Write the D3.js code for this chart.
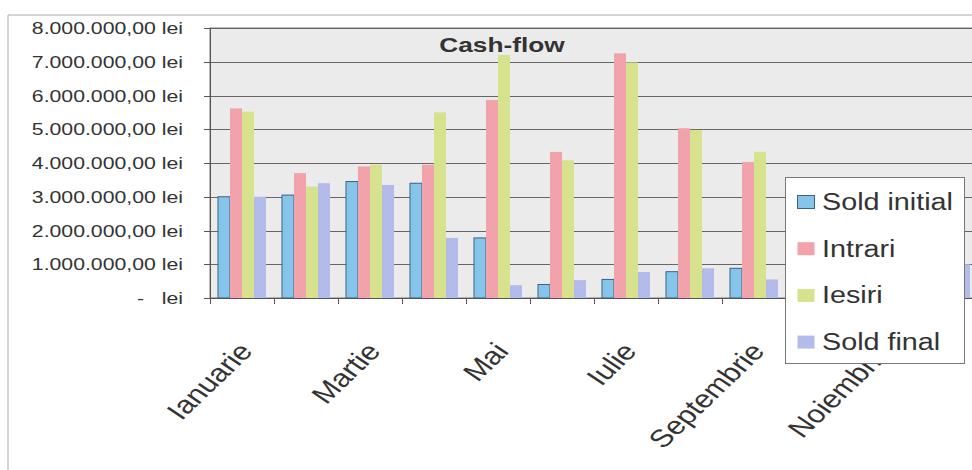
<!DOCTYPE html>
<html>
<head>
<meta charset="utf-8">
<script src="https://cdn.jsdelivr.net/npm/d3@7"></script>
<style>
  body { margin: 0; background: #fff; }
  svg { display: block; font-family: Arial, "Liberation Sans", sans-serif; }
</style>
</head>
<body>
<div id="chart"></div>
<script>
// months of the year (x categories)
const months = ["Ianuarie", "Februarie", "Martie", "Aprilie", "Mai", "Iunie",
	"Iulie", "August", "Septembrie", "Octombrie", "Noiembrie", "Decembrie"];
const seriesNames = ["Sold initial", "Intrari", "Iesiri", "Sold final"];
// values in lei (Oct-Dec sit behind the legend, rough guesses)
const soldInitial = [3000000, 3050000, 3450000, 3400000, 1780000, 400000, 550000, 780000, 880000, 550000, 700000, 850000];
const intrari     = [5620000, 3700000, 3900000, 3950000, 5870000, 4330000, 7250000, 5030000, 4030000, 3000000, 3100000, 3200000];
const iesiri      = [5520000, 3300000, 3950000, 5500000, 7200000, 4080000, 6980000, 4980000, 4330000, 2850000, 2950000, 3050000];
const soldFinal   = [3000000, 3400000, 3350000, 1780000, 380000, 530000, 770000, 880000, 550000, 700000, 850000, 1000000];
const yTicks = [0, 1000000, 2000000, 3000000, 4000000, 5000000, 6000000, 7000000, 8000000];
const colors = ["#86c4ea", "#f2a2aa", "#d6e28e", "#b3bbea"];

const W = 972, H = 470,
	stretch = 1.25, // the scan is wider than it is tall
	plot = {left: 210, right: 978, top: 28, bottom: 298},
	textColor = "#333";

let svg = d3.select("#chart").append("svg").attr("width", W).attr("height", H);

let allSeries = [soldInitial, intrari, iesiri, soldFinal];

let x0 = d3.scaleBand().domain(months)
	.range([plot.left, plot.right])
	.paddingInner(0.25).paddingOuter(0.125);
let x1 = d3.scaleBand().domain(d3.range(seriesNames.length))
	.range([0, x0.bandwidth()]);
let y = d3.scaleLinear().domain([0, 8000000]).range([plot.bottom, plot.top]);

// chart border (the right side is cut off in the scan)
svg.append("path")
	.attr("d", "M8," + H + "V15H" + W)
	.attr("fill", "none").attr("stroke", "#aaa");

// plot area
svg.append("rect")
	.attr("x", plot.left).attr("y", plot.top)
	.attr("width", plot.right - plot.left).attr("height", plot.bottom - plot.top)
	.attr("fill", "#ebebeb").attr("stroke", "#777");

// gridlines
svg.append("g").selectAll("line").data(yTicks).join("line")
	.attr("x1", plot.left).attr("x2", plot.right)
	.attr("y1", d => Math.round(y(d)) + 0.5).attr("y2", d => Math.round(y(d)) + 0.5)
	.attr("stroke", "#666").attr("stroke-width", 1);

// bars
let groups = svg.append("g").selectAll("g").data(months).join("g")
	.attr("transform", d => "translate(" + x0(d) + ",0)");

groups.selectAll("rect")
	.data((m, mi) => allSeries.map((s, si) => ({si: si, v: s[mi]})))
	.join("rect")
	.attr("x", d => x1(d.si))
	.attr("width", x1.bandwidth())
	.attr("y", d => y(d.v))
	.attr("height", d => y(0) - y(d.v))
	.attr("fill", d => colors[d.si])
	.attr("stroke", d => d.si === 0 ? "#3c6287" : "none")
	.attr("stroke-width", 1);

// axes lines
svg.append("line")
	.attr("x1", plot.left + 0.5).attr("x2", plot.left + 0.5)
	.attr("y1", plot.top).attr("y2", plot.bottom)
	.attr("stroke", "#555");
svg.append("line")
	.attr("x1", plot.left).attr("x2", plot.right)
	.attr("y1", plot.bottom + 0.5).attr("y2", plot.bottom + 0.5)
	.attr("stroke", "#555");

// y ticks + labels
let yFmt = d3.formatLocale({decimal: ",", thousands: ".", grouping: [3], currency: ["", ""]}).format(",.2f");
let yg = svg.append("g").selectAll("g").data(yTicks).join("g")
	.attr("transform", d => "translate(0," + (Math.round(y(d)) + 0.5) + ")");
yg.append("line").attr("x1", plot.left - 6).attr("x2", plot.left).attr("stroke", "#555");
yg.append("text")
	.attr("transform", "translate(183,0) scale(" + stretch + ",1)")
	.attr("text-anchor", "end").attr("dominant-baseline", "central")
	.attr("fill", textColor).style("font-size", "17px")
	.attr("xml:space", "preserve")
	.text(d => d === 0 ? "-   lei" : yFmt(d) + " lei");

// x ticks at category boundaries
svg.append("g").selectAll("line").data(d3.range(months.length + 1)).join("line")
	.attr("x1", i => plot.left + i * x0.step() + 0.5)
	.attr("x2", i => plot.left + i * x0.step() + 0.5)
	.attr("y1", plot.bottom).attr("y2", plot.bottom + 6)
	.attr("stroke", "#555");

// x labels, every other month
svg.append("g").selectAll("text")
	.data(months.filter((m, i) => i % 2 === 0)).join("text")
	.attr("transform", d => "translate(" + (x0(d) + x0.bandwidth() / 2 + 12) + ",352) scale(" + stretch + ",1) rotate(-50)")
	.attr("text-anchor", "end")
	.attr("fill", textColor).style("font-size", "25px")
	.text(d => d);

// title
svg.append("text")
	.attr("transform", "translate(502,52) scale(" + stretch + ",1)")
	.attr("text-anchor", "middle")
	.attr("fill", textColor).style("font-size", "21px").style("font-weight", "bold")
	.text("Cash-flow");

// legend
let legend = svg.append("g");
legend.append("rect")
	.attr("x", 785.5).attr("y", 177.5).attr("width", 179).attr("height", 186)
	.attr("fill", "#fff").attr("stroke", "#777");
let li = legend.selectAll("g").data(seriesNames).join("g")
	.attr("transform", (d, i) => "translate(0," + (210 + i * 46.7) + ")");
li.append("rect")
	.attr("x", 797.5).attr("y", -14.5).attr("width", 17).attr("height", 13)
	.attr("fill", (d, i) => colors[i])
	.attr("stroke", (d, i) => i === 0 ? "#3c6287" : "none");
li.append("text")
	.attr("transform", "translate(822,0) scale(" + stretch + ",1)")
	.attr("fill", textColor).style("font-size", "23px")
	.text(d => d);
</script>
</body>
</html>
